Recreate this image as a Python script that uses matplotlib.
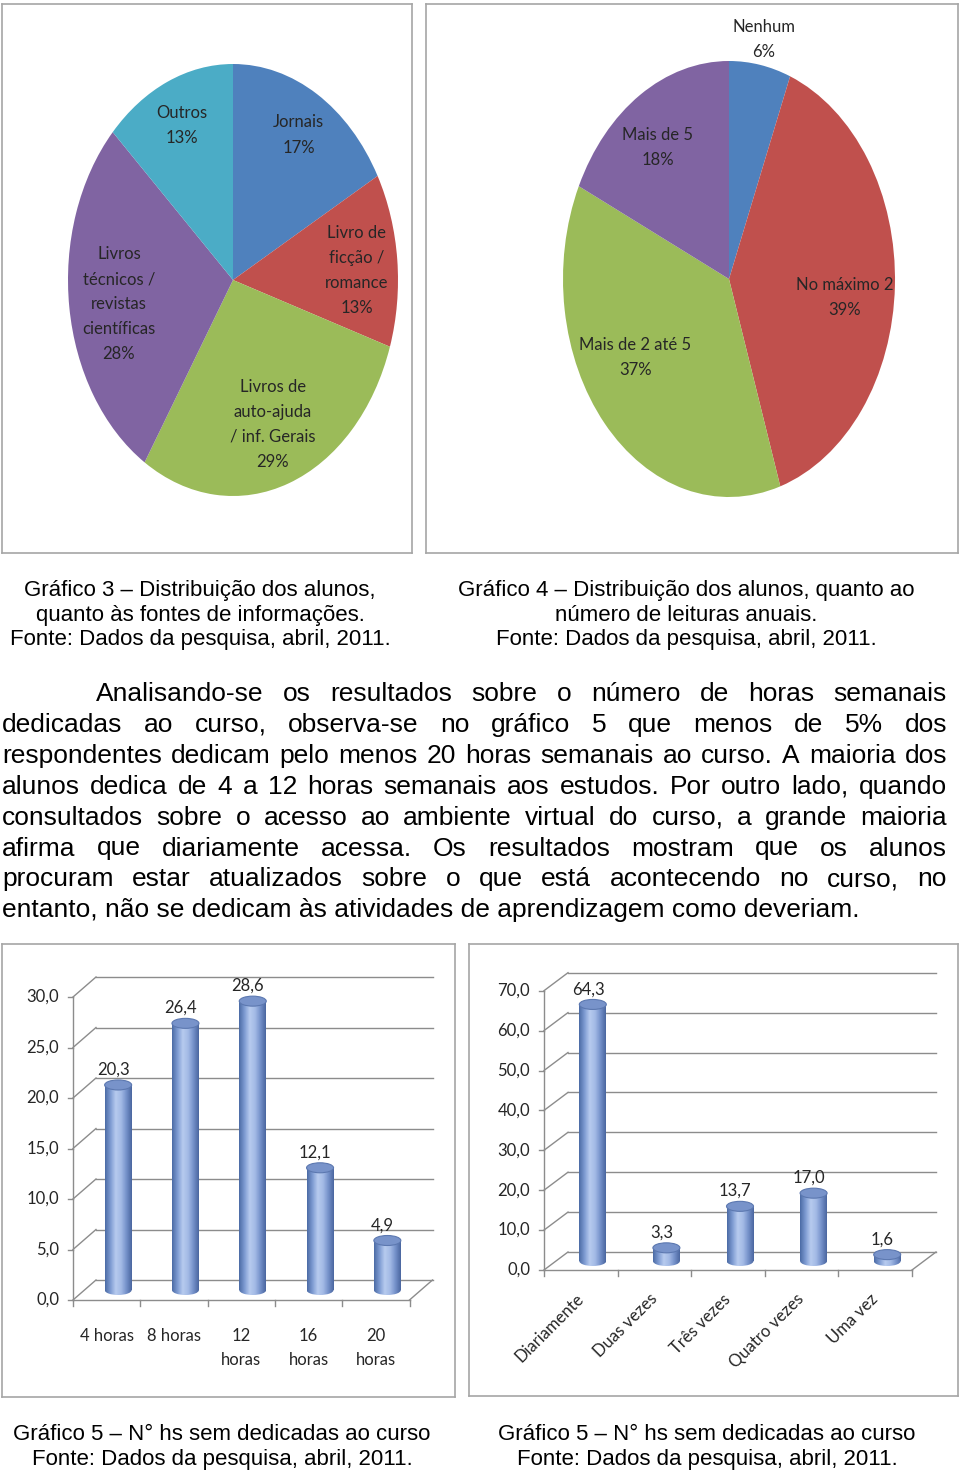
import numpy as np
import matplotlib
matplotlib.use("Agg")
from matplotlib import pyplot as plt
from matplotlib.patches import Ellipse
from matplotlib.colors import LinearSegmentedColormap

# pie data
fontes_labels = ['Jornais', 'Livro de\nficção /\nromance', 'Livros de\nauto-ajuda\n/ inf. Gerais',
                 'Livros\ntécnicos /\nrevistas\ncientíficas', 'Outros']
fontes_pct = [17, 13, 29, 28, 13]
leituras_labels = ['Nenhum', 'No máximo 2', 'Mais de 2 até 5', 'Mais de 5']
leituras_pct = [6, 39, 37, 18]

# bar data
horas_labels = ['4 horas', '8 horas', '12\nhoras', '16\nhoras', '20\nhoras']
horas_vals = [20.3, 26.4, 28.6, 12.1, 4.9]
horas_ticks = [0, 5, 10, 15, 20, 25, 30]
acesso_labels = ['Diariamente', 'Duas vezes', 'Três vezes', 'Quatro vezes', 'Uma vez']
acesso_vals = [64.3, 3.3, 13.7, 17.0, 1.6]
acesso_ticks = [0, 10, 20, 30, 40, 50, 60, 70]

caption3 = ['Gráfico 3 – Distribuição dos alunos,', 'quanto às fontes de informações.',
            'Fonte: Dados da pesquisa, abril, 2011.']
caption4 = ['Gráfico 4 – Distribuição dos alunos, quanto ao', 'número de leituras anuais.',
            'Fonte: Dados da pesquisa, abril, 2011.']
caption5 = ['Gráfico 5 – N° hs sem dedicadas ao curso', 'Fonte: Dados da pesquisa, abril, 2011.']

paragrafo = [
    'Analisando-se os resultados sobre o número de horas semanais',
    'dedicadas ao curso, observa-se no gráfico 5 que menos de 5% dos',
    'respondentes dedicam pelo menos 20 horas semanais ao curso. A maioria dos',
    'alunos dedica de 4 a 12 horas semanais aos estudos. Por outro lado, quando',
    'consultados sobre o acesso ao ambiente virtual do curso, a grande maioria',
    'afirma que diariamente acessa. Os resultados mostram que os alunos',
    'procuram estar atualizados sobre o que está acontecendo no curso, no',
    'entanto, não se dedicam às atividades de aprendizagem como deveriam.',
]

office = ['#4F81BD', '#C0504D', '#9BBB59', '#8064A2', '#4BACC6']
frame_col = '#a6a6a6'
chart_font = 'Lato'
body_font = 'Liberation Sans'

W, H = 960, 1474
fig = plt.figure(figsize=(W / 100, H / 100), dpi=100)


def px_axes(x0, y0, x1, y1):
    return fig.add_axes([x0 / W, 1 - y1 / H, (x1 - x0) / W, (y1 - y0) / H])


def style_frame(ax):
    ax.set_frame_on(True)
    for s in ax.spines.values():
        s.set_color(frame_col)
        s.set_linewidth(1.2)
    ax.set_xticks([])
    ax.set_yticks([])


def pie_chart(frame, center, radii, pct, labels, colors, label_pos):
    ax = px_axes(*frame)
    wedges, _ = ax.pie(pct, startangle=90, counterclock=False, colors=colors,
                       wedgeprops=dict(linewidth=0))
    ax.set_aspect('auto')
    cx, cy = center
    rx, ry = radii
    ax.set_xlim((frame[0] - cx) / rx, (frame[2] - cx) / rx)
    ax.set_ylim(-(frame[3] - cy) / ry, (cy - frame[1]) / ry)
    style_frame(ax)
    # label_pos: (radius fraction, angle nudge in degrees)
    for w, lab, p, (r, nudge) in zip(wedges, labels, pct, label_pos):
        th = np.radians((w.theta1 + w.theta2) / 2 + nudge)
        ax.text(r * np.cos(th), r * np.sin(th), f'{lab}\n{p}%', ha='center', va='center',
                fontsize=12, family=chart_font, color='#262626', linespacing=1.7)
    return ax


pie_chart((2, 4, 412, 553), (233, 280), (165, 216), fontes_pct, fontes_labels, office,
          [(0.78, 0), (0.75, -2), (0.71, 0), (0.70, 2), (0.78, 0)])
pie_chart((426, 4, 958, 553), (729, 279), (166, 218), leituras_pct, leituras_labels,
          office[:4], [(1.12, 0), (0.70, -5), (0.67, -9), (0.74, 3)])

cyl_cmap = LinearSegmentedColormap.from_list(
    'cyl', ['#4C6CA6', '#7E9BD2', '#B7CBEF', '#A3BAE5', '#7591CA', '#4B67A0'])


def fmt(v):
    return f'{v:.1f}'.replace('.', ',')


def bar_chart(frame, origin, step, unit, depth, labels, vals, ticks, rotate):
    ax = px_axes(*frame)
    ox, oy = origin
    style_frame(ax)
    n = len(vals)
    dx, dy = depth[0] / step, depth[1] / unit
    gcol = '#8c8c8c'
    x0 = -0.5
    # back wall gridlines and left wall diagonals
    for g in ticks:
        ax.plot([x0 + dx, n - 0.5 + dx], [g + dy, g + dy], color=gcol, lw=1, zorder=1)
        ax.plot([x0, x0 + dx], [g, g + dy], color=gcol, lw=1, zorder=1)
        ax.plot([x0 - 5 / step, x0], [g, g], color=gcol, lw=1, zorder=1)
        ax.annotate(fmt(g), (x0, g), xytext=(-10, 0), textcoords='offset points',
                    ha='right', va='center', fontsize=12, family=chart_font, color='#262626')
    # front axis and floor
    ax.plot([x0, x0], [0, ticks[-1]], color=gcol, lw=1, zorder=1)
    ax.plot([x0, n - 0.5], [0, 0], color=gcol, lw=1, zorder=1)
    ax.plot([n - 0.5, n - 0.5 + dx], [0, dy], color=gcol, lw=1, zorder=1)
    for i in range(n + 1):
        ax.plot([i - 0.5, i - 0.5], [0, -6 / unit], color=gcol, lw=1, zorder=1)

    xs = np.arange(n) + dx / 2
    bw = 27 / step
    eh = 10 / unit
    base = dy / 2
    bars = ax.bar(xs, vals, width=bw, bottom=base, color='#7E9BD2', linewidth=0, zorder=2)
    grad = np.linspace(0, 1, 64)[None, :]
    for b, x, v in zip(bars, xs, vals):
        im = ax.imshow(grad, cmap=cyl_cmap, aspect='auto', zorder=2.1,
                       extent=[x - bw / 2, x + bw / 2, base - eh / 2, base + v])
        im.set_clip_path(b)
        bot = Ellipse((x, base), bw, eh, facecolor='none', linewidth=0)
        ax.add_patch(bot)
        im2 = ax.imshow(grad, cmap=cyl_cmap, aspect='auto', zorder=2.1,
                        extent=[x - bw / 2, x + bw / 2, base - eh / 2, base + v])
        im2.set_clip_path(bot)
        ax.add_patch(Ellipse((x, base + v), bw, eh, facecolor='#7893CA',
                             edgecolor='#5C78B0', linewidth=0.8, zorder=3))
        ax.annotate(fmt(v), (x, base + v), xytext=(-3.5, 11), textcoords='offset points',
                    ha='center', va='center', fontsize=12, family=chart_font, color='#262626')
    for i, lab in enumerate(labels):
        if rotate:
            ax.annotate(lab, (i, 0), xytext=(-4, -15), textcoords='offset points',
                        rotation=45, rotation_mode='anchor', ha='right', va='top',
                        fontsize=12, family=chart_font, color='#262626')
        else:
            ax.annotate(lab, (i, 0), xytext=(0, -20), textcoords='offset points',
                        ha='center', va='top', fontsize=12, family=chart_font,
                        color='#262626', linespacing=1.65)
    ax.set_xlim((frame[0] - ox) / step - 0.5, (frame[2] - ox) / step - 0.5)
    ax.set_ylim((oy - frame[3]) / unit, (oy - frame[1]) / unit)
    return ax


bar_chart((2, 944, 455, 1397), (73, 1300), 67.3, 10.1, (23, 20),
          horas_labels, horas_vals, horas_ticks, False)
bar_chart((469, 944, 958, 1396), (544, 1270), 73.6, 3.99, (24, 18),
          acesso_labels, acesso_vals, acesso_ticks, True)


def caption(lines, cx, y0, dy=25):
    for k, s in enumerate(lines):
        fig.text(cx / W, 1 - (y0 + k * dy) / H, s, ha='center', va='center',
                 fontsize=16, family=body_font, color='black')


caption(caption3, 200, 590)
caption(caption4, 686, 590)
caption(caption5, 222, 1434)
caption(caption5, 707, 1434)

# justified paragraph
renderer = fig.canvas.get_renderer()
for i, line in enumerate(paragrafo):
    xs0 = 96 if i == 0 else 2
    yb = 1 - (701 + 30.9 * i) / H
    if i == len(paragrafo) - 1:
        fig.text(xs0 / W, yb, line, ha='left', va='baseline', fontsize=19, family=body_font)
        continue
    words = line.split()
    texts = [fig.text(0, yb, w, ha='left', va='baseline', fontsize=19, family=body_font)
             for w in words]
    widths = [t.get_window_extent(renderer=renderer).width for t in texts]
    gap = (947 - xs0 - sum(widths)) / (len(words) - 1)
    x = xs0
    for t, w in zip(texts, widths):
        t.set_x(x / W)
        x += w + gap

fig.savefig('out.png', dpi=100)
